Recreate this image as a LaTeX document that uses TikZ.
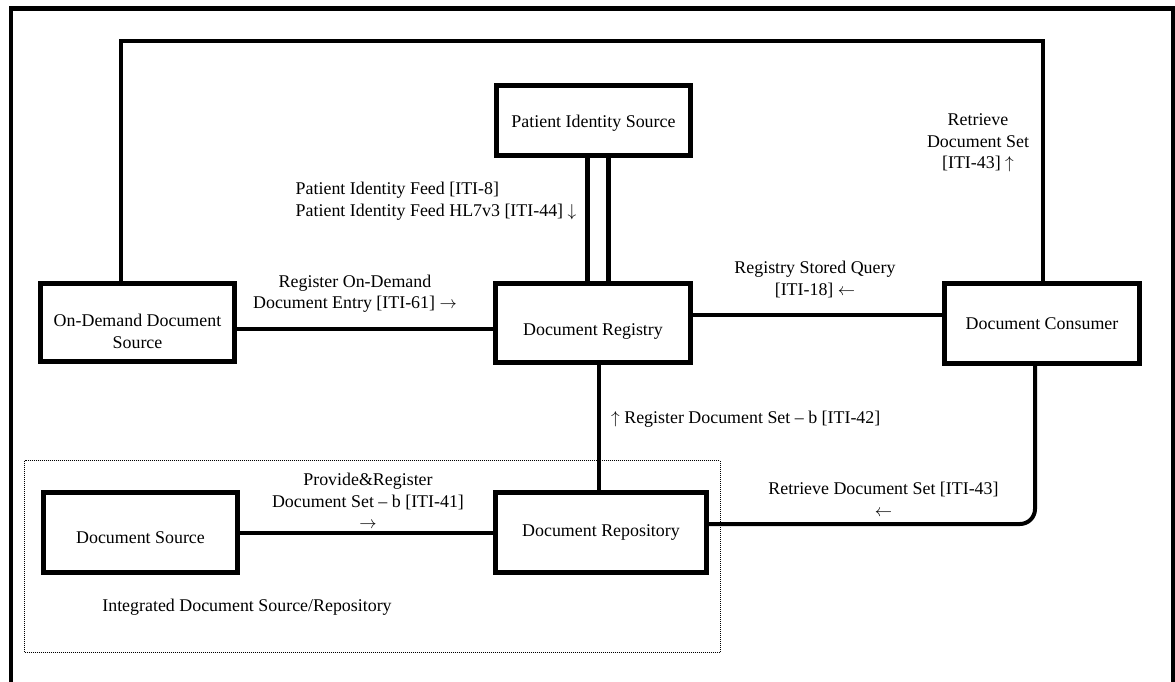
\documentclass[tikz,border=0pt]{standalone}
\usepackage{fontspec}
\setmainfont{Liberation Serif}
\newcommand{\lowerby}[1]{\rule{0pt}{#1}}
\begin{document}
\begin{tikzpicture}[x=1pt,y=-1pt,font=\fontsize{17.9}{21.5}\selectfont,
  box/.style={draw, line width=5pt, align=center, inner sep=0pt, minimum width=194pt},
  conn/.style={line width=4pt},
  dbl/.style={line width=5pt},
  frame/.style={line width=4.5pt},
  lbl/.style={inner sep=0pt, align=center},
  lbll/.style={inner sep=0pt, align=left},
  dotframe/.style={line width=1pt, dash pattern=on 1pt off 1pt}]
\useasboundingbox (0,0) rectangle (1175,682);

% outer frame (open at the bottom)
\draw[frame] (11,682) -- (11,8.5) -- (1173.5,8.5) -- (1173.5,682);

% integrated source/repository group
\draw[dotframe] (24.7,460.7) rectangle (720,652.7);

% actors
\node[box, minimum height=70pt] (pis) at (593.5,120.5) {\lowerby{18.5pt}Patient Identity Source};
\node[box, minimum height=78pt] (odds) at (137.5,322.5) {\lowerby{30pt}On-Demand Document\\Source};
\node[box, minimum width=195pt, minimum height=79pt] (reg) at (593,323) {\lowerby{28.5pt}Document Registry};
\node[box, minimum width=195pt, minimum height=80pt] (cons) at (1042,323.5) {Document Consumer};
\node[box, minimum height=80pt] (src) at (140.5,532.5) {\lowerby{22.5pt}Document Source};
\node[box, minimum width=211pt, minimum height=80pt] (repo) at (601,532.5) {Document Repository};

% connectors
\coordinate (topright) at (1043,41);
\draw[conn] ([xshift=-16.5pt]odds.north) |- (topright) -- ([xshift=1pt]cons.north);
\draw[dbl] ([xshift=-6pt]pis.south) -- ([xshift=-6pt]pis.south |- reg.north);
\draw[dbl] ([xshift=15pt]pis.south) -- ([xshift=15pt]pis.south |- reg.north);
\draw[conn] ([yshift=-6.5pt]odds.east) -- ([yshift=-6.5pt]odds.east -| reg.west);
\draw[conn] ([yshift=8pt]reg.east) -- ([yshift=8pt]reg.east -| cons.west);
\draw[conn] ([xshift=6pt]reg.south) -- ([xshift=6pt]reg.south |- repo.north);
\draw[conn] (src.east) -- (src.east -| repo.west);
\draw[conn, rounded corners=15pt] ([yshift=8.5pt]repo.east) -| ([xshift=-7pt]cons.south);

% labels
\node[lbll, anchor=west] (lpif) at (295.5,201) {Patient Identity Feed [ITI-8]\\Patient Identity Feed HL7v3 [ITI-44] $\downarrow$};
\node[lbl] (lrod) at (355,293.5) {Register On-Demand\\Document Entry [ITI-61] $\rightarrow$};
\node[lbl] (lrsq) at (815,279.5) {Registry Stored Query\\{[ITI-18] $\leftarrow$}};
\node[lbl] (lrds1) at (978,143) {Retrieve\\Document Set\\{[ITI-43] $\uparrow$}};
\node[lbll, anchor=west] (lreg) at (611,419) {$\uparrow$ Register Document Set – b [ITI-42]};
\node[lbl] (lrds2) at (883.5,499.5) {Retrieve Document Set [ITI-43]\\$\leftarrow$};
\node[lbl] (lpnr) at (368,501) {Provide\&Register\\Document Set – b [ITI-41]\\$\rightarrow$};
\node[lbl] (lint) at (247,607) {Integrated Document Source/Repository};
\end{tikzpicture}
\end{document}
